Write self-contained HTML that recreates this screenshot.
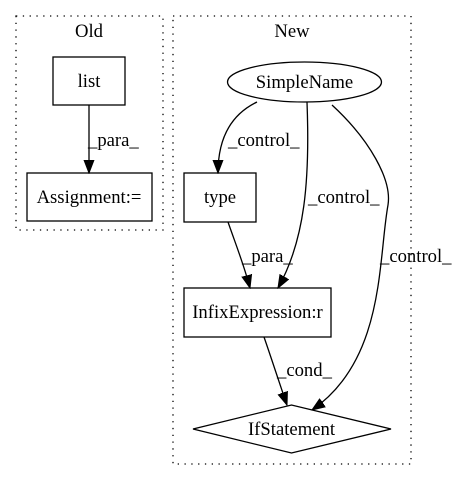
<!DOCTYPE html>
<html><head><style>body{margin:0;background:#fff}svg{display:block}</style></head><body>
<svg width="455" height="480" viewBox="0 0 455 480" xmlns="http://www.w3.org/2000/svg" font-family="Liberation Serif, serif" font-size="18.67">
<defs><marker id="a" markerWidth="14" markerHeight="12" refX="13" refY="6" orient="auto" markerUnits="userSpaceOnUse"><path d="M0,1 L13,6 L0,11 z" fill="#000" stroke="#000"/></marker></defs>
<g fill="none" stroke="#000" stroke-dasharray="1.3,5.5" stroke-width="1.3">
<rect x="16" y="16" width="147" height="214"/>
<rect x="173" y="16" width="238" height="448"/>
</g>
<g text-anchor="middle" fill="#000">
<text x="89" y="37">Old</text>
<text x="292" y="37">New</text>
</g>
<g fill="none" stroke="#000" stroke-width="1.3">
<rect x="53" y="57" width="72" height="48"/>
<rect x="27" y="173" width="125" height="48"/>
<ellipse cx="304.5" cy="82" rx="77" ry="20"/>
<rect x="184" y="173" width="72" height="49"/>
<rect x="184" y="288" width="147" height="49"/>
<polygon points="193,429 291.5,405 391,429 291.5,453"/>
<path d="M89,105 L89,173" marker-end="url(#a)"/>
<path d="M257,102 C230,115 218,140 218,173" marker-end="url(#a)"/>
<path d="M307,102 C310,180 305,240 278,288" marker-end="url(#a)"/>
<path d="M332,105 C370,140 392,180 388,205 C378,260 385,360 312,410" marker-end="url(#a)"/>
<path d="M228,222 C236,245 244,265 250,288" marker-end="url(#a)"/>
<path d="M264,337 C272,360 280,385 287,405" marker-end="url(#a)"/>
</g>
<g text-anchor="middle" fill="#000">
<text x="89" y="87">list</text>
<text x="89" y="203">Assignment:=</text>
<text x="304.5" y="88">SimpleName</text>
<text x="220" y="203">type</text>
<text x="257.5" y="318">InfixExpression:r</text>
<text x="291.5" y="435">IfStatement</text>
</g>
<g fill="#000">
<text x="88" y="146">_para_</text>
<text x="228" y="146">_control_</text>
<text x="308" y="203">_control_</text>
<text x="380" y="262">_control_</text>
<text x="242" y="262">_para_</text>
<text x="277" y="376">_cond_</text>
</g>
</svg>
</body></html>
